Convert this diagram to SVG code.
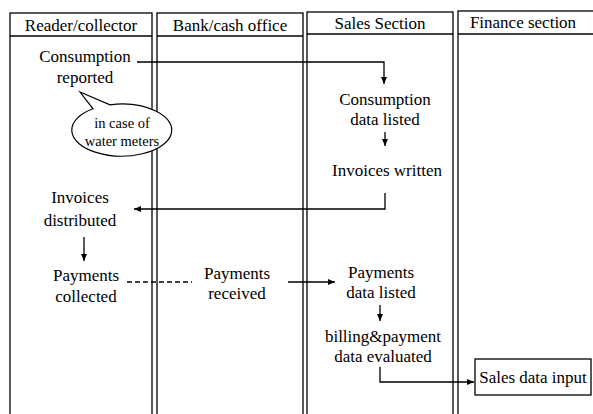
<svg xmlns="http://www.w3.org/2000/svg" width="593" height="414" viewBox="0 0 593 414">
<style>
text{font-family:"Liberation Serif","Times New Roman",serif;font-size:17px;fill:#000;text-anchor:middle}
.lane{fill:none;stroke:#000;stroke-width:1.3}
.con{fill:none;stroke:#000;stroke-width:1.3}
.dash{stroke-dasharray:5,3}
.small{font-size:14.5px}
</style>
<defs>
<marker id="ah" markerWidth="8" markerHeight="8" refX="7" refY="4" orient="auto" markerUnits="userSpaceOnUse">
<path d="M0,1 L7,4 L0,7 Z" fill="#000"/>
</marker>
</defs>
<rect width="593" height="414" fill="#fff"/>
<g id="lanes">
<g id="lane-reader"><rect class="lane" x="10" y="13" width="142" height="410"/><line class="lane" x1="10" y1="36" x2="152" y2="36"/><text x="81" y="31">Reader/collector</text></g>
<g id="lane-bank"><rect class="lane" x="157" y="13" width="146" height="410"/><line class="lane" x1="157" y1="36" x2="303" y2="36"/><text x="230" y="31">Bank/cash office</text></g>
<g id="lane-sales"><rect class="lane" x="307" y="12" width="146" height="410"/><line class="lane" x1="307" y1="34" x2="453" y2="34"/><text x="380" y="29">Sales Section</text></g>
<g id="lane-finance"><rect class="lane" x="458" y="11" width="140" height="410"/><line class="lane" x1="458" y1="34" x2="598" y2="34"/><text x="523" y="28">Finance section</text></g>
</g>
<g id="connectors">
<path class="con" d="M137,62 H384 V84" marker-end="url(#ah)"/>
<path class="con" d="M385,132 V146" marker-end="url(#ah)"/>
<path class="con" d="M385,193 V209 H134" marker-end="url(#ah)"/>
<path class="con" d="M84,237 V261" marker-end="url(#ah)"/>
<path class="con dash" d="M127,282 H192"/>
<path class="con" d="M288,282 H335" marker-end="url(#ah)"/>
<path class="con" d="M380,305 V321" marker-end="url(#ah)"/>
<path class="con" d="M380,367 V382 H474" marker-end="url(#ah)"/>
</g>
<g id="bubble">
<path d="M80,92 L110,104.8 A50,26 0 1 1 93,108.8 Z" fill="#fff" stroke="#000" stroke-width="1.2"/>
<text class="small" x="122" y="128">in case of</text>
<text class="small" x="122" y="146">water meters</text>
</g>
<g id="n-consumption-reported"><text x="85" y="62">Consumption</text><text x="85" y="83">reported</text></g>
<g id="n-consumption-listed"><text x="385" y="105">Consumption</text><text x="385" y="125">data listed</text></g>
<g id="n-invoices-written"><text x="387" y="176">Invoices written</text></g>
<g id="n-invoices-distributed"><text x="80" y="203">Invoices</text><text x="80" y="226">distributed</text></g>
<g id="n-payments-collected"><text x="86" y="281">Payments</text><text x="86" y="302">collected</text></g>
<g id="n-payments-received"><text x="237" y="279">Payments</text><text x="237" y="299">received</text></g>
<g id="n-payments-listed"><text x="381" y="278">Payments</text><text x="381" y="298">data listed</text></g>
<g id="n-evaluated"><text x="383" y="342">billing&amp;payment</text><text x="383" y="362">data evaluated</text></g>
<g id="n-sales-input"><rect x="475" y="359" width="116" height="36" fill="#fff" stroke="#000" stroke-width="1.3"/><text x="533" y="383">Sales data input</text></g>
</svg>
